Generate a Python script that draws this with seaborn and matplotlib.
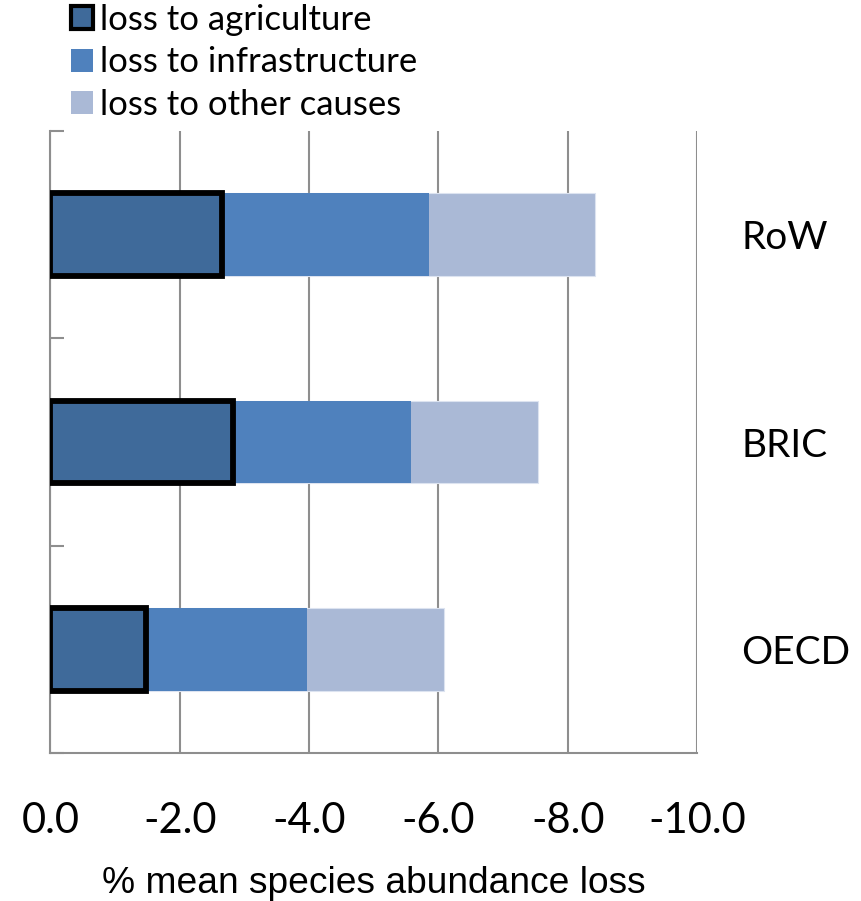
import matplotlib
matplotlib.use("Agg")
import matplotlib.pyplot as plt
import matplotlib.ticker as mticker
from matplotlib.patches import Patch
import numpy as np
import pandas as pd
import seaborn as sns

# Regions, top to bottom
regions = ["RoW", "BRIC", "OECD"]
# Mean species abundance loss (%) by cause
loss_agriculture = [-2.65, -2.83, -1.47]
loss_infrastructure = [-3.21, -2.74, -2.49]
loss_other = [-2.57, -1.97, -2.12]
series_labels = ["loss to agriculture", "loss to infrastructure", "loss to other causes"]
x_ticks = [0.0, -2.0, -4.0, -6.0, -8.0, -10.0]

sns.set_theme(style="white")
plt.rcParams["font.family"] = ["Lato", "DejaVu Sans"]
plt.rcParams["axes.unicode_minus"] = False
plt.rcParams["text.color"] = "black"
plt.rcParams["axes.labelcolor"] = "black"

c_agri = "#3F6A9A"
c_infra = "#4F81BD"
c_other = "#AAB9D6"
grid_c = "#8E8E8E"

df = pd.DataFrame({
    "region": regions,
    "agri": loss_agriculture,
    "infra": loss_infrastructure,
    "other": loss_other,
})
df["upto_infra"] = df["agri"] + df["infra"]
df["total"] = df["upto_infra"] + df["other"]

fig = plt.figure(figsize=(8.62, 9.01), dpi=100)
ax = fig.add_axes([50.5 / 862, 1 - 753 / 901, (697 - 50.5) / 862, (753 - 131) / 901])

# cumulative layers, longest first so each shorter one sits on top
sns.barplot(data=df, x="total", y="region", order=regions, orient="h", width=0.4,
            color=c_other, edgecolor="#DCE3F0", linewidth=0.8, saturation=1, ax=ax, zorder=3)
sns.barplot(data=df, x="upto_infra", y="region", order=regions, orient="h", width=0.4,
            color=c_infra, linewidth=0, saturation=1, ax=ax, zorder=4)
sns.barplot(data=df, x="agri", y="region", order=regions, orient="h", width=0.4,
            color=c_agri, edgecolor="black", linewidth=4.2, saturation=1, ax=ax, zorder=5)

ax.set_xlim(0, -10)
ax.set_ylim(2.5, -0.5)
ax.set_xticks(x_ticks)
ax.xaxis.set_major_formatter(mticker.FormatStrFormatter("%.1f"))
ax.grid(axis="x", color=grid_c, linewidth=1.5, zorder=0)
ax.set_axisbelow(True)

for side in ["top", "right"]:
    ax.spines[side].set_visible(False)
for side in ["left", "bottom"]:
    ax.spines[side].set_color(grid_c)
    ax.spines[side].set_linewidth(1.5)

ax.tick_params(axis="x", direction="out", length=11, width=1.5, color=grid_c,
               labelsize=30, pad=24, labelcolor="black")
ax.set_yticks([0, 1, 2])
ax.set_yticklabels(regions)
ax.yaxis.set_minor_locator(mticker.FixedLocator([-0.5, 0.5, 1.5, 2.5]))
ax.tick_params(axis="y", which="major", left=False, right=False, length=0,
               labelleft=False, labelright=True, labelsize=28, pad=32,
               labelcolor="black")
ax.tick_params(axis="y", which="minor", left=True, direction="in", length=10,
               width=1.5, color=grid_c)
for lab in ax.get_yticklabels():
    lab.set_horizontalalignment("left")

ax.set_ylabel("")
ax.set_xlabel("% mean species abundance loss", fontsize=26.7, color="black",
              family=["Liberation Sans", "DejaVu Sans"], labelpad=19)

handles = [
    Patch(facecolor=c_agri, edgecolor="black", linewidth=3),
    Patch(facecolor=c_infra, edgecolor="none"),
    Patch(facecolor=c_other, edgecolor="none"),
]
fig.legend(handles, series_labels, loc="upper left", bbox_to_anchor=(57 / 862, 1 + 10 / 901),
           frameon=False, fontsize=25, handlelength=0.65, handleheight=0.65,
           handletextpad=0.2, labelspacing=0.3, borderaxespad=0)

fig.savefig("out.png", dpi=100)
